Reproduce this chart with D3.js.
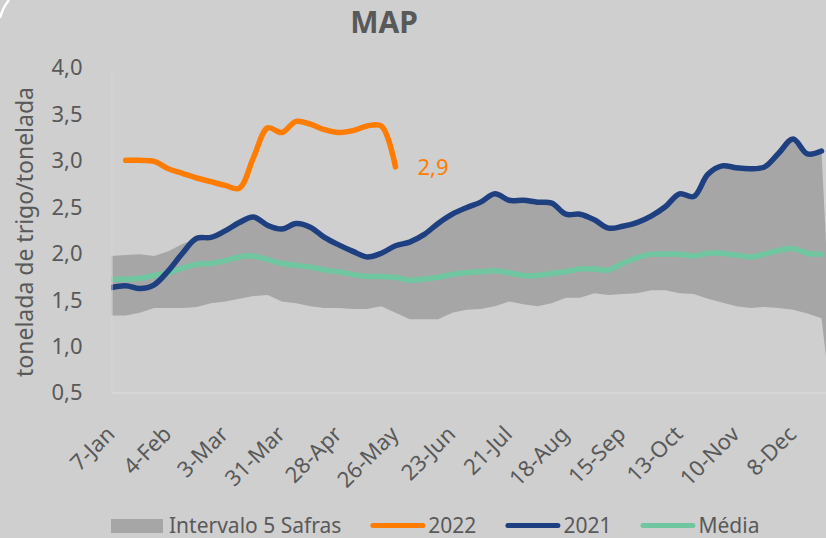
<!DOCTYPE html>
<html>
<head>
<meta charset="utf-8">
<script src="https://cdn.jsdelivr.net/npm/d3@7"></script>
<style>
  body { margin: 0; background: #cfcfcf; }
  svg { display: block; font-family: "Noto Sans", sans-serif; }
</style>
</head>
<body>
<div id="chart"></div>
<script>
// Weekly categories (52 weeks)
const weeks = [
  "7-Jan", "14-Jan", "21-Jan", "28-Jan", "4-Feb", "11-Feb", "18-Feb", "25-Feb",
  "3-Mar", "10-Mar", "17-Mar", "24-Mar", "31-Mar", "7-Apr", "14-Apr", "21-Apr",
  "28-Apr", "5-May", "12-May", "19-May", "26-May", "2-Jun", "9-Jun", "16-Jun",
  "23-Jun", "30-Jun", "7-Jul", "14-Jul", "21-Jul", "28-Jul", "4-Aug", "11-Aug",
  "18-Aug", "25-Aug", "1-Sep", "8-Sep", "15-Sep", "22-Sep", "29-Sep", "6-Oct",
  "13-Oct", "20-Oct", "27-Oct", "3-Nov", "10-Nov", "17-Nov", "24-Nov", "1-Dec",
  "8-Dec", "15-Dec", "22-Dec", "29-Dec"
];

// Intervalo 5 Safras (min / max)
const rangeLow = [
  1.33, 1.33, 1.36, 1.41, 1.41, 1.41, 1.42, 1.46, 1.48, 1.51, 1.54, 1.55, 1.48,
  1.46, 1.43, 1.41, 1.41, 1.40, 1.40, 1.43, 1.36, 1.29, 1.29, 1.29, 1.36, 1.39,
  1.40, 1.43, 1.48, 1.45, 1.43, 1.46, 1.52, 1.52, 1.57, 1.55, 1.56, 1.57, 1.60,
  1.60, 1.57, 1.56, 1.51, 1.47, 1.43, 1.41, 1.42, 1.41, 1.39, 1.35, 1.30, 0.0
];
const rangeHigh = [
  1.97, 1.98, 1.99, 1.97, 2.02, 2.10, 2.16, 2.17, 2.24, 2.33, 2.39, 2.30, 2.26,
  2.32, 2.28, 2.17, 2.09, 2.02, 1.96, 2.00, 2.08, 2.12, 2.20, 2.32, 2.42, 2.49,
  2.55, 2.64, 2.57, 2.57, 2.55, 2.54, 2.42, 2.42, 2.36, 2.27, 2.29, 2.33, 2.40,
  2.50, 2.64, 2.61, 2.85, 2.94, 2.92, 2.91, 2.93, 3.08, 3.23, 3.07, 3.10, 0.0
];

const s2022 = [
  null, 3.00, 3.00, 2.99, 2.91, 2.86, 2.81, 2.77, 2.73, 2.70, 3.03, 3.35, 3.30,
  3.42, 3.39, 3.33, 3.30, 3.32, 3.37, 3.37, 2.93
];
const s2021 = [
  1.63, 1.65, 1.62, 1.66, 1.81, 2.00, 2.16, 2.17, 2.24, 2.33, 2.39, 2.30, 2.26,
  2.32, 2.28, 2.17, 2.09, 2.02, 1.96, 2.00, 2.08, 2.12, 2.20, 2.32, 2.42, 2.49,
  2.55, 2.64, 2.57, 2.57, 2.55, 2.54, 2.42, 2.42, 2.36, 2.27, 2.29, 2.33, 2.40,
  2.50, 2.64, 2.61, 2.85, 2.94, 2.92, 2.91, 2.93, 3.08, 3.23, 3.07, 3.10
];
const media = [
  1.72, 1.72, 1.73, 1.76, 1.79, 1.84, 1.88, 1.89, 1.92, 1.96, 1.97, 1.93, 1.89,
  1.87, 1.85, 1.82, 1.80, 1.77, 1.75, 1.75, 1.74, 1.71, 1.72, 1.74, 1.77, 1.79,
  1.80, 1.81, 1.79, 1.76, 1.76, 1.78, 1.80, 1.83, 1.83, 1.82, 1.89, 1.95, 1.99,
  1.99, 1.99, 1.97, 2.00, 2.00, 1.98, 1.96, 1.99, 2.03, 2.05, 2.00, 1.99
];

const yTicks = [0.5, 1.0, 1.5, 2.0, 2.5, 3.0, 3.5, 4.0];
const legendItems = ["Intervalo 5 Safras", "2022", "2021", "Média"];

const colors = {
  band: "#a6a6a6",
  y2022: "#ff7c00",
  y2021: "#1e3f80",
  media: "#70c6a0",
  text: "#595959",
  bg: "#cfcfcf",
};

const ptBR = d3.formatLocale({decimal: ",", thousands: ".", grouping: [3], currency: ["R$", ""]});
const fmt = ptBR.format(".1f");

const width = 826;
const height = 538;

const svg = d3.select("#chart").append("svg").attr("width", width).attr("height", height);
svg.append("rect").attr("width", width).attr("height", height).attr("fill", colors.bg);

// corner of the surrounding card
svg.append("path").attr("d", "M0,18 Q3,7 9,0").attr("fill", "none").attr("stroke", "#fff").attr("stroke-width", 2.5);

const x = d3.scalePoint(weeks, [111.5, 835.7]);
const y = d3.scaleLinear([0.5, 4], [392.5, 67.5]);

svg.append("defs").append("clipPath").attr("id", "plot")
  .append("rect").attr("x", 111).attr("y", 0).attr("width", width - 111).attr("height", 393);

const plot = svg.append("g").attr("clip-path", "url(#plot)");

// 5-year range band
const band = d3.area()
  .x((d, i) => x(weeks[i]))
  .y0((d, i) => y(rangeLow[i]))
  .y1((d) => y(d));
plot.append("path").datum(rangeHigh).attr("d", band).attr("fill", colors.band);

const line = d3.line()
  .defined((d) => d != null)
  .x((d, i) => x(weeks[i]))
  .y((d) => y(d))
  .curve(d3.curveCatmullRom.alpha(0.5));

const series = [
  {data: media, color: colors.media},
  {data: s2021, color: colors.y2021},
  {data: s2022, color: colors.y2022},
];
plot.selectAll("path.series")
  .data(series)
  .join("path")
  .attr("class", "series")
  .attr("d", (d) => line(d.data))
  .attr("fill", "none")
  .attr("stroke", (d) => d.color)
  .attr("stroke-width", 5.5)
  .attr("stroke-linecap", "round")
  .attr("stroke-linejoin", "round");

// last value label for 2022
const lastIdx = s2022.length - 1;
svg.append("text")
  .attr("x", x(weeks[lastIdx]) + 22)
  .attr("y", y(s2022[lastIdx]) + 8)
  .attr("fill", colors.y2022)
  .attr("font-size", 22)
  .text(fmt(s2022[lastIdx]));

// Y axis
const yAxis = svg.append("g")
  .attr("transform", "translate(111.5,0)")
  .call(d3.axisLeft(y).tickValues(yTicks).tickSize(0).tickPadding(29).tickFormat(fmt));
yAxis.select(".domain").attr("stroke", "#d4d4d4").attr("stroke-width", 1);
yAxis.selectAll("text").attr("fill", colors.text).attr("font-size", 22).attr("font-family", "Noto Sans").attr("dy", "0.34em");

// X axis
const xAxis = svg.append("g")
  .attr("transform", "translate(0,392.5)")
  .call(d3.axisBottom(x).tickValues(weeks.filter((d, i) => i % 4 === 0 && i < 52)).tickSize(0));
xAxis.select(".domain").attr("stroke", "#dadada").attr("stroke-width", 1.5);
xAxis.selectAll("text")
  .attr("fill", colors.text)
  .attr("font-size", 22)
  .attr("font-family", "Noto Sans")
  .attr("text-anchor", "end")
  .attr("x", 0).attr("y", 0).attr("dy", 0)
  .attr("transform", "translate(4,43) rotate(-45)");

// Y title
svg.append("text")
  .attr("transform", "translate(33,232) rotate(-90)")
  .attr("text-anchor", "middle")
  .attr("fill", colors.text)
  .attr("font-size", 23)
  .text("tonelada de trigo/tonelada");

// Title
svg.append("text")
  .attr("x", 384)
  .attr("y", 33)
  .attr("text-anchor", "middle")
  .attr("fill", colors.text)
  .attr("font-size", 30)
  .attr("font-weight", "bold")
  .text("MAP");

// Legend
const legend = svg.append("g").attr("font-size", 21).attr("fill", colors.text);
const legendColors = [colors.band, colors.y2022, colors.y2021, colors.media];
let lx = 111;
legendItems.forEach((label, i) => {
  if (i === 0) {
    legend.append("rect").attr("x", lx).attr("y", 519).attr("width", 52).attr("height", 14).attr("fill", legendColors[i]);
  } else {
    legend.append("line")
      .attr("x1", lx + 2.5).attr("x2", lx + 52.5).attr("y1", 525.5).attr("y2", 525.5)
      .attr("stroke", legendColors[i]).attr("stroke-width", 5).attr("stroke-linecap", "round");
  }
  lx += 58;
  const t = legend.append("text").attr("x", lx).attr("y", 533).text(label);
  lx += t.node().getComputedTextLength() + 29;
});
</script>
</body>
</html>
